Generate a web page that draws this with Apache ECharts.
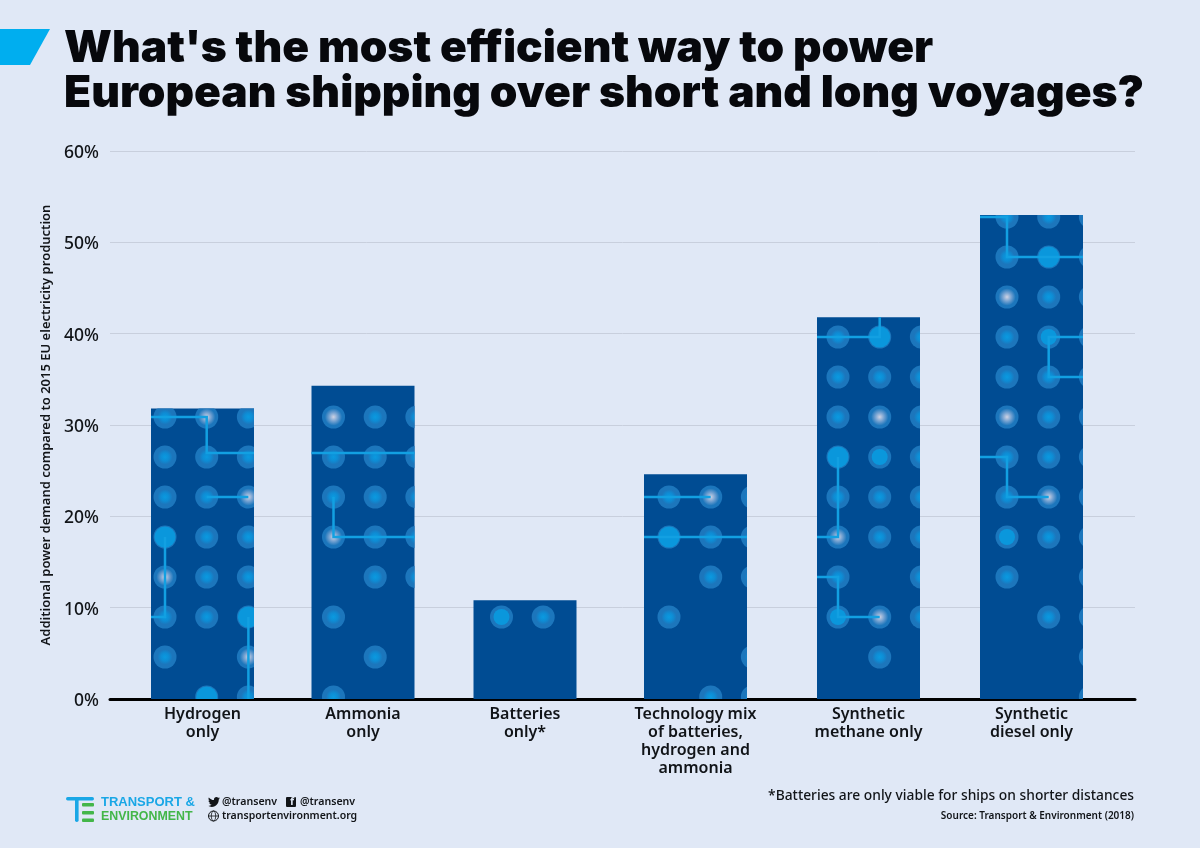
<!DOCTYPE html>
<html>
<head>
<meta charset="utf-8">
<style>
html, body { margin: 0; padding: 0; background: #e0e8f6; }
#main { width: 1200px; height: 848px; }
</style>
<script src="https://cdn.jsdelivr.net/npm/echarts@6/dist/echarts.min.js"></script>
</head>
<body>
<div id="main"></div>
<script>
// data
var categories = ['Hydrogen\nonly', 'Ammonia\nonly', 'Batteries\nonly*', 'Technology mix\nof batteries,\nhydrogen and\nammonia', 'Synthetic\nmethane only', 'Synthetic\ndiesel only'];
var demandValues = [31.8, 34.3, 10.8, 24.6, 41.8, 53.0];
var yTicks = [0, 10, 20, 30, 40, 50, 60];

// bars are not evenly spaced in the original, x axis runs 0..1025
var barSlots = [92.5, 253, 415, 585.5, 758.5, 921.5];

// circuit board decoration. rows listed top down, last string is the row on the baseline
// o = dot, M = big centre, S = solid dot, W = white glow, . = nothing
var dotRows = [
    ['oWo', 'ooo', 'ooW', 'Soo', 'Woo', 'ooS', 'o.W', '.So'],
    ['Woo', 'ooo', 'ooo', 'Woo', '.oo', 'o..', '.o.', 'o..'],
    ['Mo.', '...', '...'],
    ['oWo', 'Soo', '.oo', 'o..', '..o', '.oo'],
    ['oSo', 'ooo', 'oWo', 'SMo', 'ooo', 'Woo', 'o.o', 'MWo', '.o.', '...'],
    ['ooo', 'oSW', 'Woo', 'oMo', 'ooo', 'Woo', 'ooo', 'oWo', 'Moo', 'o.o', '.oo', '..o', '..o']
];
// traces as [col, row] lattice steps, row counted up from the baseline
var traces = [
    [[[-1, 7], [1, 7], [1, 6.1], [3, 6.1]], [[1, 5], [2, 5]], [[0, 4], [0, 2], [-1, 2]], [[2, 2], [2, -0.2]]],
    [[[-1, 6.1], [3, 6.1]], [[0, 5], [0, 4], [3, 4]]],
    [],
    [[[-1, 5], [1, 5]], [[-1, 4], [3, 4]]],
    [[[-1, 9], [1, 9], [1, 9.6]], [[0, 6], [0, 4], [-1, 4]], [[-1, 3], [0, 3], [0, 2], [1, 2]]],
    [[[-1, 12], [0, 12], [0, 11], [3, 11]], [[3, 9], [1, 9], [1, 8], [3, 8]], [[-1, 6], [0, 6], [0, 5], [1, 5]]]
];

// layout
var BAR_W = 103;
var firstCol = [14, 22, 28, 25, 21, 27];
var COL_GAP = 41.7;
var ROW_GAP = 40;

var INK = '#111418';
var BAR_BLUE = '#004c93';
var TRACE = '#12a0e2';
var HALO = '#1c76bc';
var SOLID = '#0a97dc';
var SANS = '"Noto Sans", sans-serif';
var BOLD_LOGO = '"Liberation Sans", sans-serif';
var BIRD = 'M24 4.6c-.9.4-1.8.6-2.8.8 1-.6 1.8-1.5 2.2-2.7-1 .6-2 1-3.1 1.2-.9-1-2.2-1.5-3.6-1.5-2.7 0-4.9 2.2-4.9 4.9 0 .4 0 .8.1 1.1C7.7 8.1 4.1 6.1 1.6 3.2c-.4.7-.7 1.6-.7 2.5 0 1.7.9 3.2 2.2 4.1-.8 0-1.6-.2-2.2-.6v.1c0 2.4 1.7 4.4 3.9 4.8-.7.2-1.5.2-2.2.1.6 2 2.4 3.4 4.6 3.4-2 1.5-4.6 2.4-7.3 2.1 2.2 1.4 4.8 2.2 7.6 2.2 9 0 14-7.5 14-14v-.6c1-.7 1.8-1.6 2.5-2.5z';

function dotFill(kind) {
    var stops;
    if (kind == 'W') {
        stops = [{offset: 0, color: '#cfd3e4'}, {offset: 0.4, color: '#6f9fd0'}, {offset: 0.75, color: HALO}, {offset: 1, color: HALO}];
    } else {
        stops = [{offset: 0, color: '#0a9ae0'}, {offset: 0.35, color: '#0e8cd4'}, {offset: 0.65, color: HALO}, {offset: 1, color: HALO}];
    }
    return {type: 'radial', x: 0.5, y: 0.5, r: 0.5, colorStops: stops};
}

function renderCircuit(params, api) {
    var i = params.dataIndex;
    var top = api.coord([api.value(0), api.value(1)]);
    var base = api.coord([api.value(0), 0]);
    var left = top[0] - BAR_W / 2;
    var colX = function (c) { return left + firstCol[i] + COL_GAP * c; };
    var rowY = function (r) { return base[1] - 2 - ROW_GAP * r; };
    var children = [];
    var rows = dotRows[i];
    rows.forEach(function (row, k) {
        var r = rows.length - 1 - k;
        for (var c = 0; c < row.length; c++) {
            var kind = row.charAt(c);
            if (kind == '.') continue;
            var shape = {cx: colX(c), cy: rowY(r), r: 11.5};
            if (kind == 'S' || kind == 'M') {
                children.push({type: 'circle', shape: shape, style: {fill: HALO}});
                children.push({type: 'circle', shape: {cx: shape.cx, cy: shape.cy, r: kind == 'S' ? 10.5 : 8}, style: {fill: SOLID}});
            } else {
                children.push({type: 'circle', shape: shape, style: {fill: dotFill(kind)}});
            }
        }
    });
    traces[i].forEach(function (path) {
        children.push({
            type: 'polyline',
            shape: {points: path.map(function (p) { return [colX(p[0]), rowY(p[1])]; })},
            style: {stroke: TRACE, lineWidth: 2.5, fill: null}
        });
    });
    return {
        type: 'group',
        children: children,
        clipPath: {type: 'rect', shape: {x: left, y: top[1], width: BAR_W, height: base[1] - top[1]}}
    };
}

// graphic component has no path type, the twitter bird goes through a custom series
function renderBird() {
    return {
        type: 'path',
        shape: {pathData: BIRD, layout: 'cover', x: 208, y: 797, width: 12, height: 10},
        style: {fill: INK}
    };
}

var barData = barSlots.map(function (s, i) { return [s, demandValues[i]]; });

function footerText(x, y, text, size, color, weight, align, family) {
    return {type: 'text', x: x, y: y, silent: true, style: {
        text: text, fontFamily: family || SANS, fontSize: size, fontWeight: weight || 600, fill: color || INK,
        textAlign: align || 'left', textVerticalAlign: 'middle'
    }};
}

var option = {
    animation: false,
    backgroundColor: '#e0e8f6',
    title: {
        text: "What's the most efficient way to power\nEuropean shipping over short and long voyages?",
        left: 64,
        top: 26,
        padding: 0,
        textStyle: {fontFamily: 'Inter, Lato, sans-serif', fontWeight: 900, fontSize: 44.3, lineHeight: 45, color: '#07080c'}
    },
    grid: {left: 110, right: 65, top: 151, height: 548},
    xAxis: {
        type: 'value',
        min: 0,
        max: 1025,
        splitLine: {show: false},
        axisLine: {show: true, onZero: false, lineStyle: {color: '#000', width: 3}},
        axisTick: {show: false},
        axisLabel: {
            customValues: barSlots,
            formatter: function (v) { return categories[barSlots.indexOf(v)]; },
            margin: 6,
            fontFamily: SANS,
            fontSize: 16,
            fontWeight: 600,
            lineHeight: 18,
            color: INK
        }
    },
    yAxis: {
        type: 'value',
        min: yTicks[0],
        max: yTicks[yTicks.length - 1],
        interval: 10,
        name: 'Additional power demand compared to 2015 EU electricity production',
        nameLocation: 'middle',
        nameRotate: 90,
        nameGap: 50,
        nameTextStyle: {fontFamily: SANS, fontSize: 13, fontWeight: 600, color: INK},
        axisLine: {show: false},
        axisTick: {show: false},
        splitLine: {lineStyle: {color: '#c8cfdd', width: 1}},
        axisLabel: {
            formatter: '{t|{value}%}',
            margin: 11,
            rich: {t: {padding: [4, 0, 0, 0], fontFamily: SANS, fontSize: 17.5, fontWeight: 500, color: INK}}
        }
    },
    series: [
        {
            type: 'bar',
            data: barData,
            barWidth: BAR_W,
            silent: true,
            itemStyle: {color: BAR_BLUE}
        },
        {
            type: 'custom',
            data: barData,
            encode: {x: 0, y: 1},
            renderItem: renderCircuit,
            clip: false,
            silent: true,
            z: 3
        },
        {
            type: 'custom',
            coordinateSystem: 'none',
            data: [0],
            renderItem: renderBird,
            silent: true
        }
    ],
    graphic: {elements: [
        // header flag
        {type: 'polygon', silent: true, shape: {points: [[0, 29], [50, 29], [30, 65], [0, 65]]}, style: {fill: '#00aeef'}},
        // logo
        {type: 'rect', silent: true, shape: {x: 66, y: 797, width: 28, height: 3.5, r: 1.7}, style: {fill: '#1aa7e6'}},
        {type: 'rect', silent: true, shape: {x: 75, y: 797, width: 3.6, height: 25, r: 1.7}, style: {fill: '#1aa7e6'}},
        {type: 'rect', silent: true, shape: {x: 82, y: 803, width: 12, height: 3.4, r: 1}, style: {fill: '#43b649'}},
        {type: 'rect', silent: true, shape: {x: 82, y: 811, width: 12, height: 3.4, r: 1}, style: {fill: '#43b649'}},
        {type: 'rect', silent: true, shape: {x: 82, y: 818.5, width: 12, height: 3.4, r: 1}, style: {fill: '#43b649'}},
        footerText(101, 802, 'TRANSPORT &', 13, '#1aa7e6', 700, 'left', BOLD_LOGO),
        footerText(101, 817, 'ENVIRONMENT', 12.4, '#43b649', 700, 'left', BOLD_LOGO),
        // social line
        footerText(222, 802, '@transenv', 10.6),
        {type: 'rect', silent: true, shape: {x: 286, y: 797, width: 10, height: 10, r: 1}, style: {fill: INK}},
        footerText(292, 802.5, 'f', 10.5, '#e0e8f6', 700, 'center'),
        footerText(300, 802, '@transenv', 10.6),
        {type: 'circle', silent: true, shape: {cx: 213.5, cy: 816, r: 5}, style: {fill: null, stroke: INK, lineWidth: 1}},
        {type: 'ellipse', silent: true, shape: {cx: 213.5, cy: 816, rx: 2.2, ry: 5}, style: {fill: null, stroke: INK, lineWidth: 0.8}},
        {type: 'line', silent: true, shape: {x1: 208.5, y1: 816, x2: 218.5, y2: 816}, style: {stroke: INK, lineWidth: 0.8}},
        footerText(222, 816.5, 'transportenvironment.org', 10.5),
        // notes
        footerText(1134, 796, '*Batteries are only viable for ships on shorter distances', 13.8, INK, 500, 'right'),
        footerText(1134, 816, 'Source: Transport & Environment (2018)', 10, INK, 600, 'right')
    ]}
};

echarts.init(document.getElementById('main')).setOption(option);
</script>
</body>
</html>
